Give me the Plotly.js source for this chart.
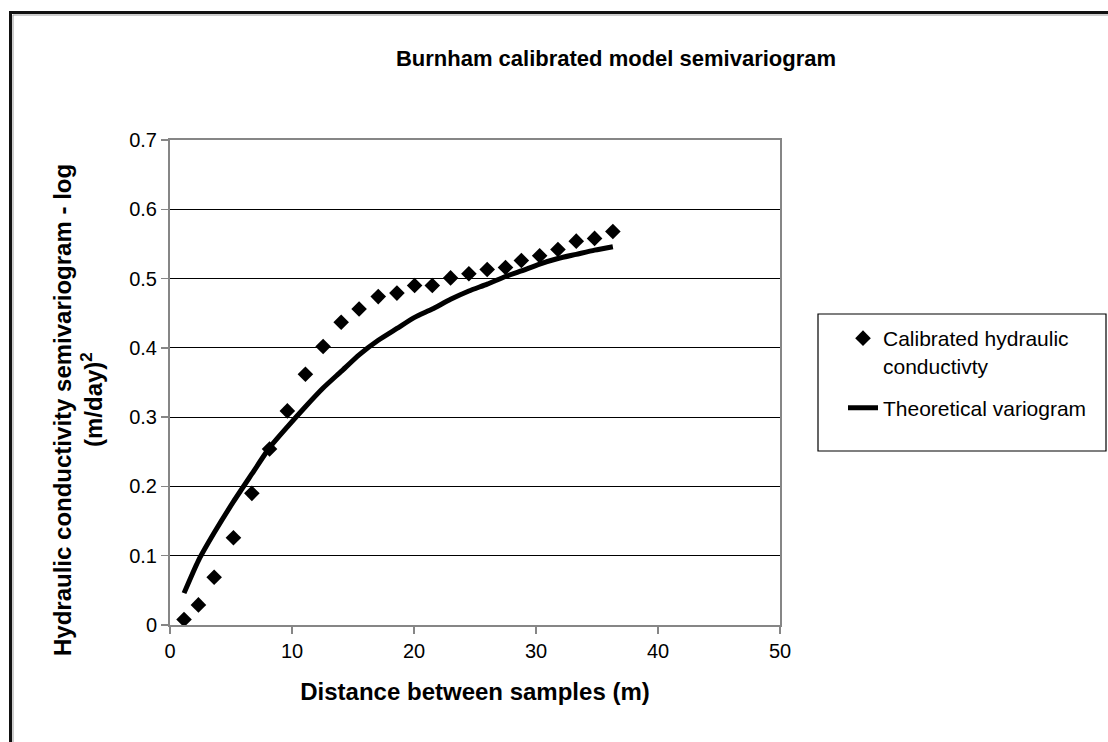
<!DOCTYPE html>
<html>
<head>
<meta charset="utf-8">
<script src="https://cdn.plot.ly/plotly-3.0.1.min.js"></script>
<style>
  html, body { margin: 0; padding: 0; background: #fff; }
  #chart { width: 1108px; height: 742px; }
</style>
</head>
<body>
<div id="chart"></div>
<script>
// Lag distances (m)
const distance = [1.15, 2.33, 3.62, 5.2, 6.71, 8.16, 9.62, 11.1, 12.55, 14.03,
  15.5, 17.07, 18.6, 20.05, 21.5, 23.0, 24.5, 26.0, 27.5, 28.8,
  30.3, 31.8, 33.3, 34.8, 36.3];
// Calibrated hydraulic conductivity semivariogram (experimental)
const calibrated = [0.008, 0.029, 0.069, 0.126, 0.19, 0.254, 0.309, 0.362, 0.402, 0.437,
  0.456, 0.474, 0.479, 0.49, 0.49, 0.501, 0.507, 0.513, 0.516, 0.526,
  0.533, 0.542, 0.554, 0.558, 0.568];
// Theoretical variogram
const theoretical = [0.046, 0.093, 0.133, 0.178, 0.218, 0.256, 0.286, 0.315, 0.342, 0.366,
  0.390, 0.411, 0.428, 0.444, 0.456, 0.470, 0.482, 0.492, 0.503, 0.511,
  0.521, 0.529, 0.535, 0.541, 0.546];

const seriesNames = ["Calibrated hydraulic<br>conductivty", "Theoretical variogram"];
const chartTitle = "Burnham calibrated model semivariogram";
const xTitle = "Distance between samples (m)";
const yTitleLine1 = "Hydraulic conductivity semivariogram - log";
const yTitleLine2 = "(m/day)<sup>2</sup>";

const FONT = "'Liberation Sans', Arial, sans-serif";

// plot area in pixels: left 170, right 780, top 140, bottom 625
const L = 170, R = 780, T = 140, B = 625, W = 1108, H = 742;
const px = x => (x - L) / (R - L);
const py = y => (B - y) / (B - T);

const traces = [
  {
    x: distance, y: calibrated, type: "scatter", mode: "markers",
    name: seriesNames[0], legendgroup: "a",
    marker: { symbol: "diamond", size: 12, color: "#000" }
  },
  {
    x: distance, y: theoretical, type: "scatter", mode: "lines",
    name: seriesNames[1], legendgroup: "b",
    line: { color: "#000", width: 5, shape: "spline", smoothing: 0.6 }
  }
];

const layout = {
  width: W, height: H,
  margin: { l: L, r: W - R, t: T, b: H - B, pad: 0 },
  paper_bgcolor: "#fff", plot_bgcolor: "#fff",
  font: { family: FONT, color: "#000", size: 20 },
  showlegend: true,
  title: {
    text: "<b>" + chartTitle + "</b>",
    font: { family: FONT, size: 22, color: "#000" },
    xref: "container", x: 616 / W, xanchor: "center",
    yref: "container", y: 1 - 58 / H, yanchor: "middle"
  },
  xaxis: {
    range: [0, 50], dtick: 10, tick0: 0,
    showgrid: false, zeroline: false,
    showline: true, mirror: true, linecolor: "#868686", linewidth: 2,
    ticks: "outside", ticklen: 7, tickwidth: 1.5, tickcolor: "#868686",
    tickfont: { family: FONT, size: 20, color: "#000" },
    title: {
      text: "<b>" + xTitle + "</b>",
      font: { family: FONT, size: 24, color: "#000" },
      standoff: 22
    }
  },
  yaxis: {
    range: [0, 0.7], dtick: 0.1, tick0: 0,
    showgrid: true, gridcolor: "#000", gridwidth: 1,
    zeroline: false,
    showline: true, mirror: true, linecolor: "#868686", linewidth: 2,
    ticks: "outside", ticklen: 7, tickwidth: 1.5, tickcolor: "#868686",
    tickfont: { family: FONT, size: 20, color: "#000" }
  },
  legend: {
    x: px(843), y: py(318), xanchor: "left", yanchor: "top",
    bgcolor: "rgba(0,0,0,0)", borderwidth: 0,
    font: { family: FONT, size: 21, color: "#000" },
    valign: "top", traceorder: "grouped", tracegroupgap: 12
  },
  annotations: [
    {
      text: "<b>" + yTitleLine1 + "</b>", textangle: -90,
      xref: "paper", yref: "paper", x: px(62), y: py(410),
      xanchor: "center", yanchor: "middle", showarrow: false,
      font: { family: FONT, size: 24, color: "#000" }
    },
    {
      text: "<b>" + yTitleLine2 + "</b>", textangle: -90,
      xref: "paper", yref: "paper", x: px(92), y: py(400),
      xanchor: "center", yanchor: "middle", showarrow: false,
      font: { family: FONT, size: 24, color: "#000" }
    }
  ],
  shapes: [
    { type: "rect", xref: "paper", yref: "paper", layer: "above",
      x0: px(818), x1: px(1106), y0: py(451), y1: py(314),
      line: { color: "#000", width: 1.2 }, fillcolor: "rgba(0,0,0,0)" },
    { type: "rect", xref: "paper", yref: "paper", layer: "above",
      x0: px(10.5), x1: px(1130), y0: py(760), y1: py(12.5),
      line: { color: "#111", width: 3 }, fillcolor: "rgba(0,0,0,0)" },
    { type: "rect", xref: "paper", yref: "paper", layer: "above",
      x0: px(13), x1: px(1130), y0: py(760), y1: py(15),
      line: { color: "#9a9a9a", width: 1 }, fillcolor: "rgba(0,0,0,0)" }
  ]
};

Plotly.newPlot("chart", traces, layout, { displayModeBar: false, staticPlot: true });
</script>
</body>
</html>
